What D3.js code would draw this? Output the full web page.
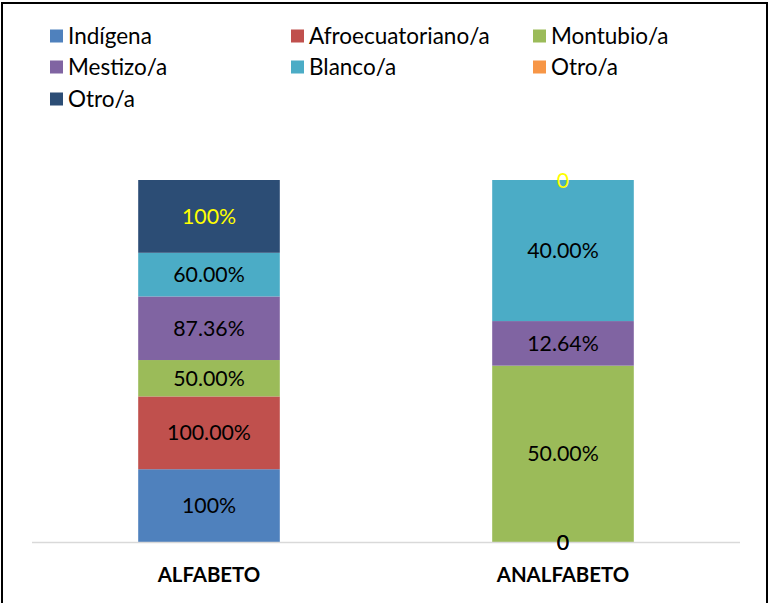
<!DOCTYPE html>
<html>
<head>
<meta charset="utf-8">
<script src="https://cdn.jsdelivr.net/npm/d3@7"></script>
<style>
  html, body { margin: 0; padding: 0; background: #fff; }
  svg { display: block; }
  text { font-family: Lato, "Liberation Sans", sans-serif; }
</style>
</head>
<body>
<div id="chart"></div>
<script>
// Categories on the x axis
const categories = ["ALFABETO", "ANALFABETO"];

// Series names (legend order, stacked bottom to top)
const seriesNames = ["Indígena", "Afroecuatoriano/a", "Montubio/a", "Mestizo/a", "Blanco/a", "Otro/a", "Otro/a"];
const seriesColors = ["#4f81bd", "#c0504d", "#9bbb59", "#8064a2", "#4bacc6", "#f79646", "#2c4d75"];

// Values per series: [ALFABETO, ANALFABETO]
const indigena  = [100, 0];
const afro      = [100, 0];
const montubio  = [50, 50];
const mestizo   = [87.36, 12.64];
const blanco    = [60, 40];
const otroA     = [0, 0];
const otroB     = [100, 0];
const seriesValues = [indigena, afro, montubio, mestizo, blanco, otroA, otroB];

// Data label texts per series (null = no label)
const seriesLabels = [
  ["100%", "0"],
  ["100.00%", "0"],
  ["50.00%", "50.00%"],
  ["87.36%", "12.64%"],
  ["60.00%", "40.00%"],
  [null, null],
  ["100%", "0"]
];
const labelColors = ["#000", "#000", "#000", "#000", "#000", "#000", "#ffff00"];

const W = 769, H = 603;
const svg = d3.select("#chart").append("svg").attr("width", W).attr("height", H);

// Outer frame
svg.append("rect")
  .attr("x", 2).attr("y", 3).attr("width", 765).attr("height", 602)
  .attr("fill", "#fff").attr("stroke", "#000").attr("stroke-width", 2);

// Table for stacking
const keys = seriesValues.map((_, i) => "s" + i);
const table = categories.map((c, ci) => {
  const row = { category: c };
  seriesValues.forEach((vals, si) => { row["s" + si] = vals[ci]; });
  return row;
});

const stacked = d3.stack().keys(keys).offset(d3.stackOffsetExpand)(table);

const x = d3.scaleBand().domain(categories).range([32, 740]).paddingInner(0).paddingOuter(0);
const barW = x.bandwidth() * 0.4;
const y = d3.scaleLinear().domain([0, 1]).range([542, 180]);

// Bars
const layers = svg.append("g").selectAll("g")
  .data(stacked).join("g")
  .attr("fill", (d, i) => seriesColors[i]);

layers.selectAll("rect")
  .data(d => d.map(p => ({ p, cat: p.data.category })))
  .join("rect")
  .attr("x", d => x(d.cat) + (x.bandwidth() - barW) / 2)
  .attr("width", barW)
  .attr("y", d => y(d.p[1]))
  .attr("height", d => Math.max(0, y(d.p[0]) - y(d.p[1])));

// Category axis line
svg.append("line")
  .attr("x1", 32).attr("x2", 740).attr("y1", 542.5).attr("y2", 542.5)
  .attr("stroke", "#d9d9d9").attr("stroke-width", 1.5);

// Category labels
const xAxis = d3.axisBottom(x).tickSize(0).tickPadding(0);
const ax = svg.append("g").attr("transform", "translate(0,542)").call(xAxis);
ax.select(".domain").remove();
ax.selectAll("text")
  .attr("dy", 0).attr("y", 40)
  .attr("font-family", "Lato, 'Liberation Sans', sans-serif")
  .attr("font-size", 20.4).attr("font-weight", "bold").attr("fill", "#000");

// Data labels
stacked.forEach((layer, si) => {
  layer.forEach((p, ci) => {
    const txt = seriesLabels[si][ci];
    if (txt == null) return;
    svg.append("text")
      .attr("x", x(p.data.category) + x.bandwidth() / 2)
      .attr("y", (y(p[0]) + y(p[1])) / 2)
      .attr("dy", "0.36em")
      .attr("text-anchor", "middle")
      .attr("font-size", 21.3)
      .attr("fill", labelColors[si])
      .text(txt);
  });
});

// Legend
const legCols = [50, 291, 533];
const legRows = [36, 67, 99];
const legend = svg.append("g");
seriesNames.forEach((name, i) => {
  const cx = legCols[i % 3], cy = legRows[Math.floor(i / 3)];
  legend.append("rect")
    .attr("x", cx).attr("y", cy - 6.5).attr("width", 13).attr("height", 13)
    .attr("fill", seriesColors[i]);
  legend.append("text")
    .attr("x", cx + 18).attr("y", cy).attr("dy", "0.36em")
    .attr("font-size", 22.5).attr("fill", "#000")
    .text(name);
});
</script>
</body>
</html>
